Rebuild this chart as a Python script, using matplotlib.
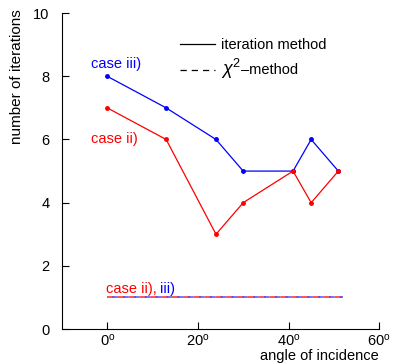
import matplotlib
matplotlib.use('Agg')
import matplotlib.pyplot as plt
from matplotlib.lines import Line2D

plt.rcParams['font.family'] = ['Liberation Sans', 'DejaVu Sans']
plt.rcParams['mathtext.fontset'] = 'custom'
plt.rcParams['mathtext.rm'] = 'Liberation Sans'
plt.rcParams['mathtext.it'] = 'Liberation Sans:italic'

angles = [0, 13, 24, 30, 41, 45, 51]
iter_case3 = [8, 7, 6, 5, 5, 6, 5]
iter_case2 = [7, 6, 3, 4, 5, 4, 5]
chi2_angles = [0, 52]
chi2_iters = [1, 1]
xticks = [0, 20, 40, 60]
yticks = [0, 2, 4, 6, 8, 10]

fig = plt.figure(figsize=(3.97, 3.64), dpi=100)
ax = fig.add_axes([0.156, 0.096, 0.799, 0.868])

ax.plot(angles, iter_case3, color='#0000ff', lw=0.9, marker='o', ms=2.5)
ax.plot(angles, iter_case2, color='#ff0000', lw=0.9, marker='o', ms=2.5)

# chi^2 method: both cases sit on top of each other, dashes interleaved
ax.plot(chi2_angles, chi2_iters, color='#ff4444', lw=1.3, ls=(0, (4, 2)))
ax.plot(chi2_angles, chi2_iters, color='#4444ff', lw=1.3, ls=(3, (3, 3)), alpha=0.8)

ax.set_xlim(-10, 60)
ax.set_ylim(0, 10)
ax.set_xticks(xticks)
ax.set_xticklabels([f'{t}$^{{\\rm o}}$' for t in xticks])
ax.set_yticks(yticks)
ax.tick_params(direction='in', length=5, labelsize=10.5)
ax.tick_params(axis='y', pad=9)
ax.tick_params(axis='x', pad=2.5)
for side in ('top', 'right'):
    ax.spines[side].set_visible(False)

ax.set_ylabel('number of iterations', fontsize=11)
ax.yaxis.set_label_coords(-0.12, 0.80)
ax.text(1.0, -0.063, 'angle of incidence', transform=ax.transAxes,
        ha='right', va='top', fontsize=10.5)

ax.text(-3.5, 8.25, 'case iii)', color='#0000ff', fontsize=10.5)
ax.text(-3.5, 5.9, 'case ii)', color='#ff0000', fontsize=10.5)
ax.text(-0.3, 1.15, 'case ii),', color='#ff0000', fontsize=10.5)
ax.text(11.6, 1.15, 'iii)', color='#0000ff', fontsize=10.5)

handles = [Line2D([], [], color='black', lw=0.9),
           Line2D([], [], color='black', lw=0.9, ls=(0, (5, 4)))]
leg = ax.legend(handles, ['iteration method', r'$\chi^2$'],
                loc='upper left', bbox_to_anchor=(0.33, 0.962), frameon=False,
                fontsize=10.5, handlelength=2.4, handletextpad=0.45, labelspacing=0.3)
chi_text = leg.get_texts()[1]
chi_text.set_fontsize(13)

# the rest of the second legend label goes right after the big chi^2
fig.canvas.draw()
bb = chi_text.get_window_extent()
fig.text(bb.x1 - 1, (bb.y0 + bb.y1) / 2 - 1, '–method', transform=None,
         va='center', ha='left', fontsize=10.5)

fig.savefig('out.png', dpi=100)
